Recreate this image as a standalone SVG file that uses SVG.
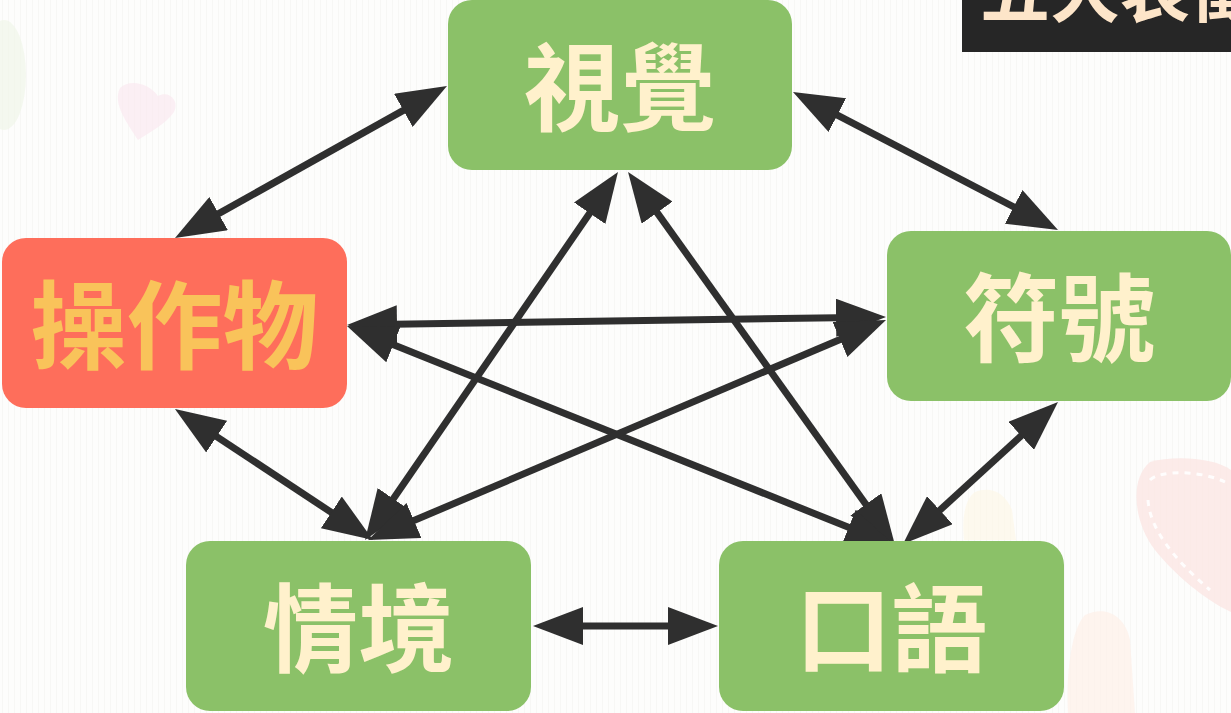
<svg xmlns="http://www.w3.org/2000/svg" width="1231" height="713" viewBox="0 0 1231 713">
  <style>
    .node-green { fill: #8bc168; }
    .node-red { fill: #fe6e5b; }
    .label { font-family: "Noto Sans CJK TC", "Noto Sans CJK SC", sans-serif; font-weight: 700; font-size: 96px; text-anchor: middle; dominant-baseline: central; }
    .label-cream { fill: #fff1cc; }
    .label-gold { fill: #f9c35a; }
    .link { stroke: #2f2f2f; stroke-width: 7; fill: none; marker-start: url(#head); marker-end: url(#head); }
    .title { font-family: "Noto Sans CJK TC", "Noto Sans CJK SC", sans-serif; font-weight: 700; font-size: 70px; fill: #fde5c9; }
  </style>
  <defs>
    <marker id="head" markerUnits="userSpaceOnUse" markerWidth="50" markerHeight="38" viewBox="0 0 50 38" refX="20" refY="19" orient="auto-start-reverse">
      <path d="M0,0 L50,19 L0,38 z" fill="#2f2f2f"/>
    </marker>
    <pattern id="streaks" width="6" height="713" patternUnits="userSpaceOnUse">
      <rect width="6" height="713" fill="#fdfdfc"/>
      <rect x="2" width="1" height="713" fill="#f7f7f5"/>
    </pattern>
  </defs>

  <!-- paper background -->
  <rect width="1231" height="713" fill="url(#streaks)"/>

  <!-- faint watercolour decorations -->
  <g id="decor">
    <ellipse cx="4" cy="75" rx="22" ry="55" fill="#eef5e6" opacity="0.6"/>
    <path d="M120,88 C130,78 150,84 158,96 C168,90 180,100 174,112 C166,124 150,132 138,140 C128,124 112,104 120,88 z" fill="#fae6ee" opacity="0.6"/>
    <path d="M1150,462 C1175,455 1215,458 1231,470 L1231,612 C1205,600 1175,575 1155,550 C1135,525 1128,480 1150,462 z" fill="#fbe6e4" opacity="0.8"/>
    <path d="M1150,480 C1160,470 1200,470 1225,482" stroke="#ffffff" stroke-width="3" stroke-dasharray="6 6" fill="none" opacity="0.9"/>
    <path d="M1148,500 C1150,530 1175,560 1210,590" stroke="#ffffff" stroke-width="3" stroke-dasharray="6 6" fill="none" opacity="0.9"/>
    <path d="M1085,615 C1105,605 1125,615 1130,640 L1135,713 L1068,713 C1066,680 1070,630 1085,615 z" fill="#fdf0e8" opacity="0.7"/>
    <path d="M975,492 C990,486 1005,492 1012,510 L1016,540 L964,540 C962,520 964,500 975,492 z" fill="#fdf6e4" opacity="0.6"/>
  </g>

  <!-- title tab, top right -->
  <g id="title">
    <rect x="962" y="0" width="269" height="52" fill="#262626"/>
    <text class="title" x="980" y="17">五大表徵</text>
  </g>

  <!-- connectors (all double-headed) -->
  <g id="connectors">
    <line class="link" x1="420.8" y1="100.6" x2="201.2" y2="223.4"/>
    <line class="link" x1="819.6" y1="105.9" x2="1031.4" y2="216.1"/>
    <line class="link" x1="200" y1="425.6" x2="348" y2="523.4"/>
    <line class="link" x1="601" y1="196.7" x2="382" y2="515.3"/>
    <line class="link" x1="645.5" y1="196.4" x2="877.5" y2="520.6"/>
    <line class="link" x1="377" y1="324.55" x2="856" y2="317.45"/>
    <line class="link" x1="374.8" y1="337.2" x2="867.2" y2="534.8"/>
    <line class="link" x1="858.4" y1="331.7" x2="395.6" y2="528.3"/>
    <line class="link" x1="563" y1="626" x2="688" y2="626"/>
    <line class="link" x1="1035.9" y1="422.3" x2="925.1" y2="523.7"/>
  </g>

  <!-- nodes -->
  <g id="node-visual">
    <rect class="node-green" x="448" y="0" width="344" height="170" rx="24"/>
    <text class="label label-cream" x="620" y="81">視覺</text>
  </g>
  <g id="node-manipulative">
    <rect class="node-red" x="2" y="238" width="345" height="170" rx="24"/>
    <text class="label label-gold" x="174.5" y="319">操作物</text>
  </g>
  <g id="node-symbol">
    <rect class="node-green" x="887" y="231" width="344" height="170" rx="24"/>
    <text class="label label-cream" x="1059" y="312">符號</text>
  </g>
  <g id="node-context">
    <rect class="node-green" x="186" y="541" width="345" height="170" rx="24"/>
    <text class="label label-cream" x="358.5" y="622">情境</text>
  </g>
  <g id="node-spoken">
    <rect class="node-green" x="719" y="541" width="345" height="170" rx="24"/>
    <text class="label label-cream" x="891.5" y="622">口語</text>
  </g>
</svg>
